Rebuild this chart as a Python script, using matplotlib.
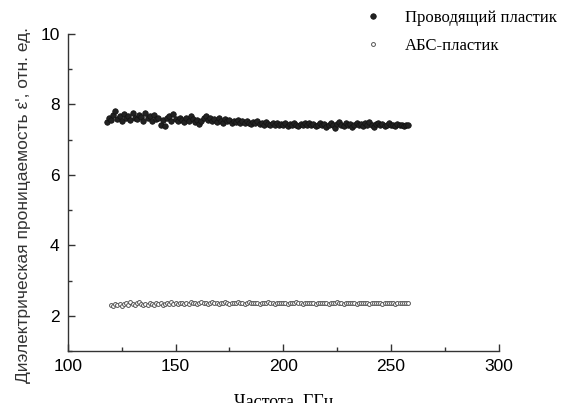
import matplotlib
matplotlib.use('Agg')
import matplotlib.pyplot as plt
from matplotlib.ticker import MultipleLocator

# frequency grid, GHz
freq_cond = [118, 119, 120, 121, 122, 123, 124, 125, 126, 127,
             128, 129, 130, 131, 132, 133, 134, 135, 136, 137,
             138, 139, 140, 141, 142, 143, 144, 145, 146, 147,
             148, 149, 150, 151, 152, 153, 154, 155, 156, 157,
             158, 159, 160, 161, 162, 163, 164, 165, 166, 167,
             168, 169, 170, 171, 172, 173, 174, 175, 176, 177,
             178, 179, 180, 181, 182, 183, 184, 185, 186, 187,
             188, 189, 190, 191, 192, 193, 194, 195, 196, 197,
             198, 199, 200, 201, 202, 203, 204, 205, 206, 207,
             208, 209, 210, 211, 212, 213, 214, 215, 216, 217,
             218, 219, 220, 221, 222, 223, 224, 225, 226, 227,
             228, 229, 230, 231, 232, 233, 234, 235, 236, 237,
             238, 239, 240, 241, 242, 243, 244, 245, 246, 247,
             248, 249, 250, 251, 252, 253, 254, 255, 256, 257,
             258]

# conductive plastic
eps_cond = [7.50, 7.62, 7.55, 7.70, 7.80, 7.58, 7.66, 7.52, 7.72, 7.60,
            7.68, 7.55, 7.74, 7.62, 7.58, 7.70, 7.64, 7.52, 7.75, 7.60,
            7.66, 7.54, 7.70, 7.58, 7.62, 7.40, 7.56, 7.38, 7.60, 7.66,
            7.54, 7.72, 7.58, 7.52, 7.62, 7.55, 7.50, 7.60, 7.54, 7.66,
            7.58, 7.50, 7.56, 7.44, 7.52, 7.60, 7.66, 7.56, 7.62, 7.52,
            7.58, 7.50, 7.62, 7.54, 7.48, 7.58, 7.52, 7.56, 7.46, 7.54,
            7.50, 7.56, 7.48, 7.52, 7.46, 7.54, 7.48, 7.44, 7.50, 7.46,
            7.52, 7.44, 7.48, 7.42, 7.50, 7.44, 7.40, 7.46, 7.42, 7.48,
            7.40, 7.44, 7.42, 7.46, 7.38, 7.44, 7.40, 7.46, 7.42, 7.38,
            7.44, 7.40, 7.46, 7.42, 7.48, 7.40, 7.44, 7.38, 7.42, 7.46,
            7.40, 7.44, 7.36, 7.42, 7.48, 7.40, 7.34, 7.44, 7.50, 7.42,
            7.38, 7.46, 7.40, 7.44, 7.36, 7.42, 7.48, 7.40, 7.44, 7.38,
            7.46, 7.42, 7.50, 7.40, 7.36, 7.44, 7.48, 7.40, 7.44, 7.38,
            7.42, 7.46, 7.40, 7.42, 7.38, 7.44, 7.40, 7.42, 7.38, 7.42,
            7.40]

freq_abs = [120, 121, 122, 123, 124, 125, 126, 127, 128, 129,
            130, 131, 132, 133, 134, 135, 136, 137, 138, 139,
            140, 141, 142, 143, 144, 145, 146, 147, 148, 149,
            150, 151, 152, 153, 154, 155, 156, 157, 158, 159,
            160, 161, 162, 163, 164, 165, 166, 167, 168, 169,
            170, 171, 172, 173, 174, 175, 176, 177, 178, 179,
            180, 181, 182, 183, 184, 185, 186, 187, 188, 189,
            190, 191, 192, 193, 194, 195, 196, 197, 198, 199,
            200, 201, 202, 203, 204, 205, 206, 207, 208, 209,
            210, 211, 212, 213, 214, 215, 216, 217, 218, 219,
            220, 221, 222, 223, 224, 225, 226, 227, 228, 229,
            230, 231, 232, 233, 234, 235, 236, 237, 238, 239,
            240, 241, 242, 243, 244, 245, 246, 247, 248, 249,
            250, 251, 252, 253, 254, 255, 256, 257, 258]

# ABS plastic
eps_abs = [2.30, 2.28, 2.32, 2.30, 2.34, 2.29, 2.33, 2.36, 2.31, 2.38,
           2.33, 2.30, 2.35, 2.39, 2.32, 2.30, 2.34, 2.31, 2.36, 2.33,
           2.30, 2.35, 2.32, 2.37, 2.31, 2.34, 2.36, 2.32, 2.38, 2.34,
           2.36, 2.33, 2.37, 2.35, 2.32, 2.36, 2.34, 2.38, 2.35, 2.37,
           2.33, 2.36, 2.38, 2.35, 2.37, 2.34, 2.36, 2.38, 2.35, 2.37,
           2.34, 2.36, 2.35, 2.38, 2.36, 2.34, 2.37, 2.35, 2.36, 2.38,
           2.35, 2.37, 2.34, 2.36, 2.38, 2.35, 2.37, 2.35, 2.36, 2.34,
           2.37, 2.35, 2.36, 2.38, 2.35, 2.37, 2.34, 2.36, 2.35, 2.37,
           2.35, 2.36, 2.34, 2.37, 2.35, 2.36, 2.38, 2.35, 2.36, 2.34,
           2.37, 2.35, 2.36, 2.35, 2.37, 2.34, 2.36, 2.35, 2.37, 2.35,
           2.36, 2.34, 2.37, 2.35, 2.36, 2.38, 2.35, 2.36, 2.34, 2.36,
           2.35, 2.37, 2.35, 2.36, 2.34, 2.36, 2.35, 2.37, 2.35, 2.36,
           2.34, 2.36, 2.35, 2.37, 2.35, 2.36, 2.34, 2.36, 2.35, 2.36,
           2.35, 2.36, 2.34, 2.36, 2.35, 2.36, 2.35, 2.36, 2.35]

labels = ['Проводящий пластик', 'АБС-пластик']
xlabel = 'Частота, ГГц'
ylabel = "Диэлектрическая проницаемость ε', отн. ед."

sans = 'Liberation Sans'
serif = 'Liberation Serif'

fig = plt.figure(figsize=(5.61, 4.03), dpi=100)
ax = fig.add_axes([0.121, 0.129, 0.768, 0.787])

ax.plot(freq_cond, eps_cond, linestyle='none', marker='o', markersize=4.0,
        markerfacecolor='#222222', markeredgecolor='#111111', markeredgewidth=0.5,
        label=labels[0])
ax.plot(freq_abs, eps_abs, linestyle='none', marker='o', markersize=2.8,
        markerfacecolor='white', markeredgecolor='#555555', markeredgewidth=0.7,
        label=labels[1])

ax.set_xlim(100, 300)
ax.set_ylim(1, 10)
ax.xaxis.set_major_locator(MultipleLocator(50))
ax.xaxis.set_minor_locator(MultipleLocator(25))
ax.yaxis.set_major_locator(MultipleLocator(2))
ax.yaxis.set_minor_locator(MultipleLocator(1))

ax.spines['top'].set_visible(False)
ax.spines['right'].set_visible(False)
for s in ('left', 'bottom'):
    ax.spines[s].set_linewidth(1.0)
    ax.spines[s].set_color('#333333')

ax.tick_params(which='major', direction='in', length=5, width=1, color='#333333',
               labelsize=12.5, pad=6)
ax.tick_params(which='minor', direction='in', length=3, width=1, color='#333333')
for t in ax.get_xticklabels() + ax.get_yticklabels():
    t.set_family(sans)

ax.set_xlabel(xlabel, family=serif, fontsize=13, labelpad=14)
ax.set_ylabel(ylabel, family=sans, fontsize=12.5, color='#333333', labelpad=8)
ax.yaxis.set_label_coords(-0.085, 0.46)

leg = ax.legend(loc='upper left', bbox_to_anchor=(0.627, 1.012),
                bbox_transform=fig.transFigure, frameon=False,
                prop={'family': serif, 'size': 12},
                handlelength=0.8, handletextpad=1.5, labelspacing=0.72,
                markerscale=1.0)

fig.savefig('out.png', dpi=100)
